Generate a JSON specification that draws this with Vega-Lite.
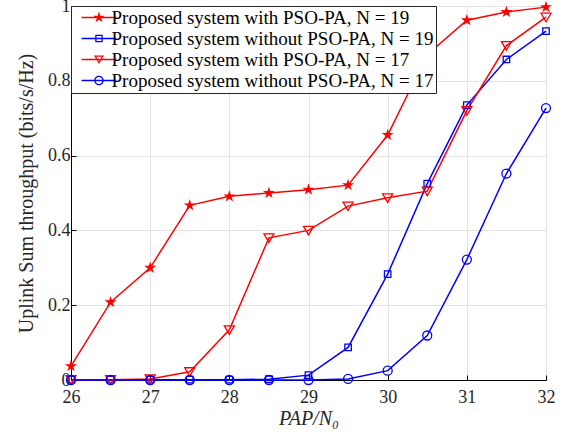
{
  "$schema": "https://vega.github.io/schema/vega-lite/v6.json",
  "width": 475,
  "height": 374,
  "autosize": {"type": "none"},
  "padding": {"left": 71, "top": 6, "right": 23, "bottom": 53},
  "background": "white",
  "config": {
    "view": {"stroke": "black", "strokeWidth": 1},
    "font": "Liberation Serif",
    "axis": {
      "domainColor": "black",
      "tickColor": "black",
      "gridColor": "#e3e3e3",
      "gridWidth": 1,
      "labelFont": "Liberation Serif",
      "labelFontSize": 18,
      "labelColor": "#262626",
      "labelFlush": false,
      "titleFont": "Liberation Serif",
      "titleFontSize": 20,
      "titleFontWeight": "normal",
      "titleColor": "#262626",
      "tickSize": -5
    },
    "legend": {
      "orient": "top-left",
      "offset": 0,
      "padding": 2,
      "strokeColor": "#262626",
      "fillColor": "white",
      "labelFont": "Liberation Serif",
      "labelFontSize": 19,
      "labelColor": "black",
      "labelLimit": 400,
      "rowPadding": 1,
      "symbolSize": 100,
      "symbolOffset": 16.5,
      "labelOffset": 3,
      "symbolStrokeWidth": 0,
      "symbolOpacity": 1
    }
  },
  "data": {
    "values": [
      {"x": 26, "y": 0.037, "s": "Proposed system with PSO-PA, N = 19"},
      {"x": 26.5, "y": 0.208, "s": "Proposed system with PSO-PA, N = 19"},
      {"x": 27, "y": 0.30, "s": "Proposed system with PSO-PA, N = 19"},
      {"x": 27.5, "y": 0.467, "s": "Proposed system with PSO-PA, N = 19"},
      {"x": 28, "y": 0.491, "s": "Proposed system with PSO-PA, N = 19"},
      {"x": 28.5, "y": 0.50, "s": "Proposed system with PSO-PA, N = 19"},
      {"x": 29, "y": 0.509, "s": "Proposed system with PSO-PA, N = 19"},
      {"x": 29.5, "y": 0.521, "s": "Proposed system with PSO-PA, N = 19"},
      {"x": 30, "y": 0.655, "s": "Proposed system with PSO-PA, N = 19"},
      {"x": 30.5, "y": 0.87, "s": "Proposed system with PSO-PA, N = 19"},
      {"x": 31, "y": 0.962, "s": "Proposed system with PSO-PA, N = 19"},
      {"x": 31.5, "y": 0.984, "s": "Proposed system with PSO-PA, N = 19"},
      {"x": 32, "y": 0.997, "s": "Proposed system with PSO-PA, N = 19"},
      {"x": 26, "y": 0.001, "s": "Proposed system without PSO-PA, N = 19"},
      {"x": 26.5, "y": 0.001, "s": "Proposed system without PSO-PA, N = 19"},
      {"x": 27, "y": 0.001, "s": "Proposed system without PSO-PA, N = 19"},
      {"x": 27.5, "y": 0.001, "s": "Proposed system without PSO-PA, N = 19"},
      {"x": 28, "y": 0.001, "s": "Proposed system without PSO-PA, N = 19"},
      {"x": 28.5, "y": 0.002, "s": "Proposed system without PSO-PA, N = 19"},
      {"x": 29, "y": 0.013, "s": "Proposed system without PSO-PA, N = 19"},
      {"x": 29.5, "y": 0.087, "s": "Proposed system without PSO-PA, N = 19"},
      {"x": 30, "y": 0.283, "s": "Proposed system without PSO-PA, N = 19"},
      {"x": 30.5, "y": 0.525, "s": "Proposed system without PSO-PA, N = 19"},
      {"x": 31, "y": 0.735, "s": "Proposed system without PSO-PA, N = 19"},
      {"x": 31.5, "y": 0.857, "s": "Proposed system without PSO-PA, N = 19"},
      {"x": 32, "y": 0.933, "s": "Proposed system without PSO-PA, N = 19"},
      {"x": 26, "y": 0.001, "s": "Proposed system with PSO-PA, N = 17"},
      {"x": 26.5, "y": 0.001, "s": "Proposed system with PSO-PA, N = 17"},
      {"x": 27, "y": 0.003, "s": "Proposed system with PSO-PA, N = 17"},
      {"x": 27.5, "y": 0.022, "s": "Proposed system with PSO-PA, N = 17"},
      {"x": 28, "y": 0.134, "s": "Proposed system with PSO-PA, N = 17"},
      {"x": 28.5, "y": 0.38, "s": "Proposed system with PSO-PA, N = 17"},
      {"x": 29, "y": 0.40, "s": "Proposed system with PSO-PA, N = 17"},
      {"x": 29.5, "y": 0.465, "s": "Proposed system with PSO-PA, N = 17"},
      {"x": 30, "y": 0.487, "s": "Proposed system with PSO-PA, N = 17"},
      {"x": 30.5, "y": 0.505, "s": "Proposed system with PSO-PA, N = 17"},
      {"x": 31, "y": 0.72, "s": "Proposed system with PSO-PA, N = 17"},
      {"x": 31.5, "y": 0.894, "s": "Proposed system with PSO-PA, N = 17"},
      {"x": 32, "y": 0.97, "s": "Proposed system with PSO-PA, N = 17"},
      {"x": 26, "y": 0.0, "s": "Proposed system without PSO-PA, N = 17"},
      {"x": 26.5, "y": 0.0, "s": "Proposed system without PSO-PA, N = 17"},
      {"x": 27, "y": 0.0, "s": "Proposed system without PSO-PA, N = 17"},
      {"x": 27.5, "y": 0.0, "s": "Proposed system without PSO-PA, N = 17"},
      {"x": 28, "y": 0.0, "s": "Proposed system without PSO-PA, N = 17"},
      {"x": 28.5, "y": 0.0, "s": "Proposed system without PSO-PA, N = 17"},
      {"x": 29, "y": 0.0, "s": "Proposed system without PSO-PA, N = 17"},
      {"x": 29.5, "y": 0.003, "s": "Proposed system without PSO-PA, N = 17"},
      {"x": 30, "y": 0.025, "s": "Proposed system without PSO-PA, N = 17"},
      {"x": 30.5, "y": 0.119, "s": "Proposed system without PSO-PA, N = 17"},
      {"x": 31, "y": 0.322, "s": "Proposed system without PSO-PA, N = 17"},
      {"x": 31.5, "y": 0.552, "s": "Proposed system without PSO-PA, N = 17"},
      {"x": 32, "y": 0.727, "s": "Proposed system without PSO-PA, N = 17"}
    ]
  },
  "encoding": {
    "x": {
      "field": "x", "type": "quantitative",
      "scale": {"domain": [26, 32], "nice": false},
      "axis": {"values": [26, 27, 28, 29, 30, 31, 32], "title": "PAP/N₀", "titleFontStyle": "italic", "labelPadding": 13, "titlePadding": 2}
    },
    "y": {
      "field": "y", "type": "quantitative",
      "scale": {"domain": [0, 1], "nice": false},
      "axis": {"values": [0, 0.2, 0.4, 0.6, 0.8, 1], "format": ".1~f", "title": "Uplink Sum throughput (bits/s/Hz)", "labelPadding": 6, "titlePadding": 11}
    }
  },
  "layer": [
    {
      "mark": {"type": "point", "filled": true, "opacity": 0, "size": 100},
      "encoding": {
        "color": {
          "field": "s", "type": "nominal",
          "scale": {
            "domain": ["Proposed system with PSO-PA, N = 19", "Proposed system without PSO-PA, N = 19", "Proposed system with PSO-PA, N = 17", "Proposed system without PSO-PA, N = 17"],
            "range": ["#ff0000", "#0000ff", "#ff0000", "#0000ff"]
          },
          "legend": {"title": null}
        },
        "shape": {
          "field": "s", "type": "nominal",
          "scale": {
            "domain": ["Proposed system with PSO-PA, N = 19", "Proposed system without PSO-PA, N = 19", "Proposed system with PSO-PA, N = 17", "Proposed system without PSO-PA, N = 17"],
            "range": [
              "M-3.5,-0.15L3.5,-0.15L3.5,0.15L-3.5,0.15ZM0,-1.2L0.269,-0.371L1.141,-0.371L0.436,0.142L0.705,0.971L0,0.458L-0.705,0.971L-0.436,0.142L-1.141,-0.371L-0.269,-0.371Z",
              "M-3.5,-0.15L3.5,-0.15L3.5,0.15L-3.5,0.15ZM-0.75,-0.75L0.75,-0.75L0.75,0.75L-0.75,0.75ZM-0.5,-0.5L-0.5,0.5L0.5,0.5L0.5,-0.5Z",
              "M-3.5,-0.15L3.5,-0.15L3.5,0.15L-3.5,0.15ZM-1,-0.8L1,-0.8L0,0.9ZM-0.545,-0.54L0,0.387L0.545,-0.54Z",
              "M-3.5,-0.15L3.5,-0.15L3.5,0.15L-3.5,0.15ZM-0.95,0A0.95,0.95 0 1,1 0.95,0A0.95,0.95 0 1,1 -0.95,0ZM-0.7,0A0.7,0.7 0 1,0 0.7,0A0.7,0.7 0 1,0 -0.7,0Z"
            ]
          },
          "legend": {"title": null}
        }
      }
    },
    {
      "mark": {"type": "line", "strokeWidth": 1.5},
      "encoding": {
        "stroke": {
          "field": "s", "type": "nominal",
          "scale": {
            "domain": ["Proposed system with PSO-PA, N = 19", "Proposed system without PSO-PA, N = 19", "Proposed system with PSO-PA, N = 17", "Proposed system without PSO-PA, N = 17"],
            "range": ["#ff0000", "#0000ff", "#ff0000", "#0000ff"]
          },
          "legend": null
        }
      }
    },
    {
      "transform": [{"filter": "datum.s == 'Proposed system with PSO-PA, N = 19'"}],
      "mark": {"type": "point", "filled": true, "opacity": 1, "color": "#ff0000", "size": 160, "shape": "M0,-1L0.224,-0.309L0.951,-0.309L0.363,0.118L0.588,0.809L0,0.382L-0.588,0.809L-0.363,0.118L-0.951,-0.309L-0.224,-0.309Z"},
      "encoding": {}
    },
    {
      "transform": [{"filter": "datum.s == 'Proposed system without PSO-PA, N = 19'"}],
      "mark": {"type": "point", "filled": false, "opacity": 1, "color": "#0000ff", "size": 42, "strokeWidth": 1.3, "shape": "square"},
      "encoding": {}
    },
    {
      "transform": [{"filter": "datum.s == 'Proposed system with PSO-PA, N = 17'"}],
      "mark": {"type": "point", "filled": false, "opacity": 1, "color": "#ff0000", "size": 100, "strokeWidth": 1.3, "shape": "M-1,-0.8L1,-0.8L0,0.9Z"},
      "encoding": {}
    },
    {
      "transform": [{"filter": "datum.s == 'Proposed system without PSO-PA, N = 17'"}],
      "mark": {"type": "point", "filled": false, "opacity": 1, "color": "#0000ff", "size": 81, "strokeWidth": 1.3, "shape": "circle"},
      "encoding": {}
    }
  ]
}
